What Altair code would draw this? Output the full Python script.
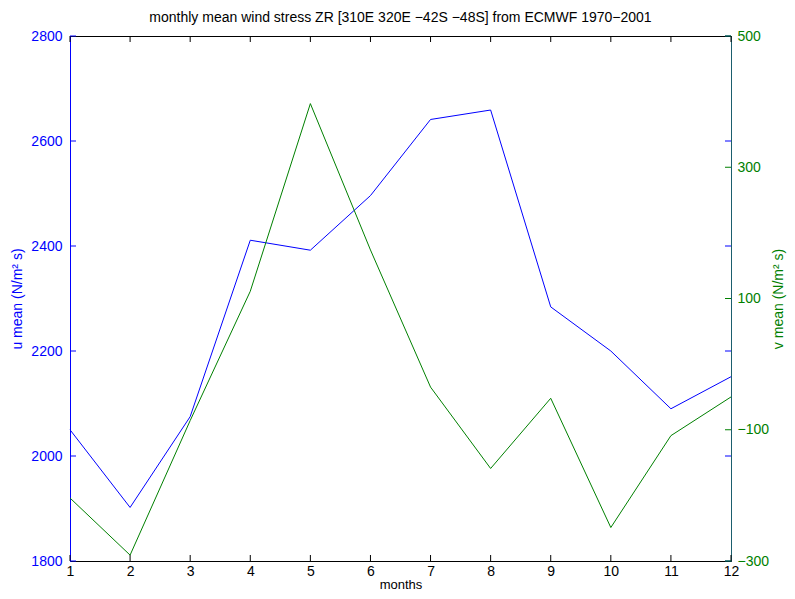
import altair as alt
import pandas as pd

months = list(range(1, 13))
u_mean = [2050, 1902, 2075, 2411, 2392, 2496, 2641, 2659, 2284, 2200, 2090, 2151]
v_mean = [-204, -291, -86, 111, 397, 174, -35, -159, -52, -249, -109, -50]
u_ticks = [1800, 2000, 2200, 2400, 2600, 2800]
v_ticks = [-300, -100, 100, 300, 500]

BLUE = "#0000ff"
GREEN = "#008000"
FONT = "Liberation Sans"
W, H = 661, 525
TL = 6

df = pd.DataFrame({"month": months, "u": u_mean, "v": v_mean})
df_ut = pd.DataFrame({"t": u_ticks})
df_vt = pd.DataFrame({"t": v_ticks})
df_mt = pd.DataFrame({"m": months})

xscale = alt.Scale(domain=[1, 12], nice=False, zero=False)
uscale = alt.Scale(domain=[1800, 2800], nice=False, zero=False)
vscale = alt.Scale(domain=[-300, 500], nice=False, zero=False)

xaxis = alt.Axis(values=months, format="d", title="months", tickSize=0,
                 labelPadding=3, titlePadding=0, titleFontSize=13,
                 labelFlush=False, labelColor="black", domainColor="black",
                 grid=False)
uaxis = alt.Axis(values=u_ticks, format="d", title="u mean (N/m² s)",
                 orient="left", tickSize=0, labelPadding=8, labelFlush=False,
                 titlePadding=6, labelColor=BLUE, titleColor=BLUE,
                 domainColor=BLUE, grid=False)
vaxis = alt.Axis(values=v_ticks, format="d", title="v mean (N/m² s)",
                 orient="right", tickSize=0, labelPadding=6, labelFlush=False,
                 titlePadding=17, titleAngle=270, labelColor=GREEN,
                 titleColor=GREEN, domainColor="#1b5e6e", grid=False)

u_line = alt.Chart(df).mark_line(color=BLUE, strokeWidth=1).encode(
    x=alt.X("month:Q", scale=xscale, axis=xaxis),
    y=alt.Y("u:Q", scale=uscale, axis=uaxis),
)
u_tl = alt.Chart(df_ut).mark_rule(color=BLUE, strokeWidth=1).encode(
    y=alt.Y("t:Q", scale=uscale, axis=uaxis), x=alt.value(0), x2=alt.value(TL))
u_tr = alt.Chart(df_ut).mark_rule(color=BLUE, strokeWidth=1).encode(
    y=alt.Y("t:Q", scale=uscale, axis=uaxis), x=alt.value(W - TL), x2=alt.value(W))
x_tb = alt.Chart(df_mt).mark_rule(color="black", strokeWidth=1).encode(
    x=alt.X("m:Q", scale=xscale, axis=xaxis), y=alt.value(H), y2=alt.value(H - TL))
x_tt = alt.Chart(df_mt).mark_rule(color="black", strokeWidth=1).encode(
    x=alt.X("m:Q", scale=xscale, axis=xaxis), y=alt.value(0), y2=alt.value(TL))

v_line = alt.Chart(df).mark_line(color=GREEN, strokeWidth=1).encode(
    x=alt.X("month:Q", scale=xscale, axis=xaxis),
    y=alt.Y("v:Q", scale=vscale, axis=vaxis),
)
v_tr = alt.Chart(df_vt).mark_rule(color=GREEN, strokeWidth=1).encode(
    y=alt.Y("t:Q", scale=vscale, axis=vaxis), x=alt.value(W - TL), x2=alt.value(W))

left = alt.layer(u_tl, u_tr, x_tb, x_tt, u_line)
right = alt.layer(v_tr, v_line)

chart = alt.layer(left, right).resolve_scale(y="independent").properties(
    width=W, height=H,
    background="white",
    autosize=alt.AutoSizeParams(type="none"),
    padding={"left": 62, "top": 28, "right": 56, "bottom": 30},
    title=alt.TitleParams("monthly mean wind stress ZR [310E 320E −42S −48S] from ECMWF 1970−2001",
                          fontSize=14, font=FONT, fontWeight="normal",
                          anchor="middle", offset=4, color="black"),
).configure_view(stroke="black", strokeWidth=1).configure_axis(
    labelFont=FONT, titleFont=FONT, labelFontSize=14, titleFontSize=14,
    titleFontWeight="normal", domainWidth=1,
)

chart.save("out.html", embed_options={"renderer": "svg", "actions": False})
